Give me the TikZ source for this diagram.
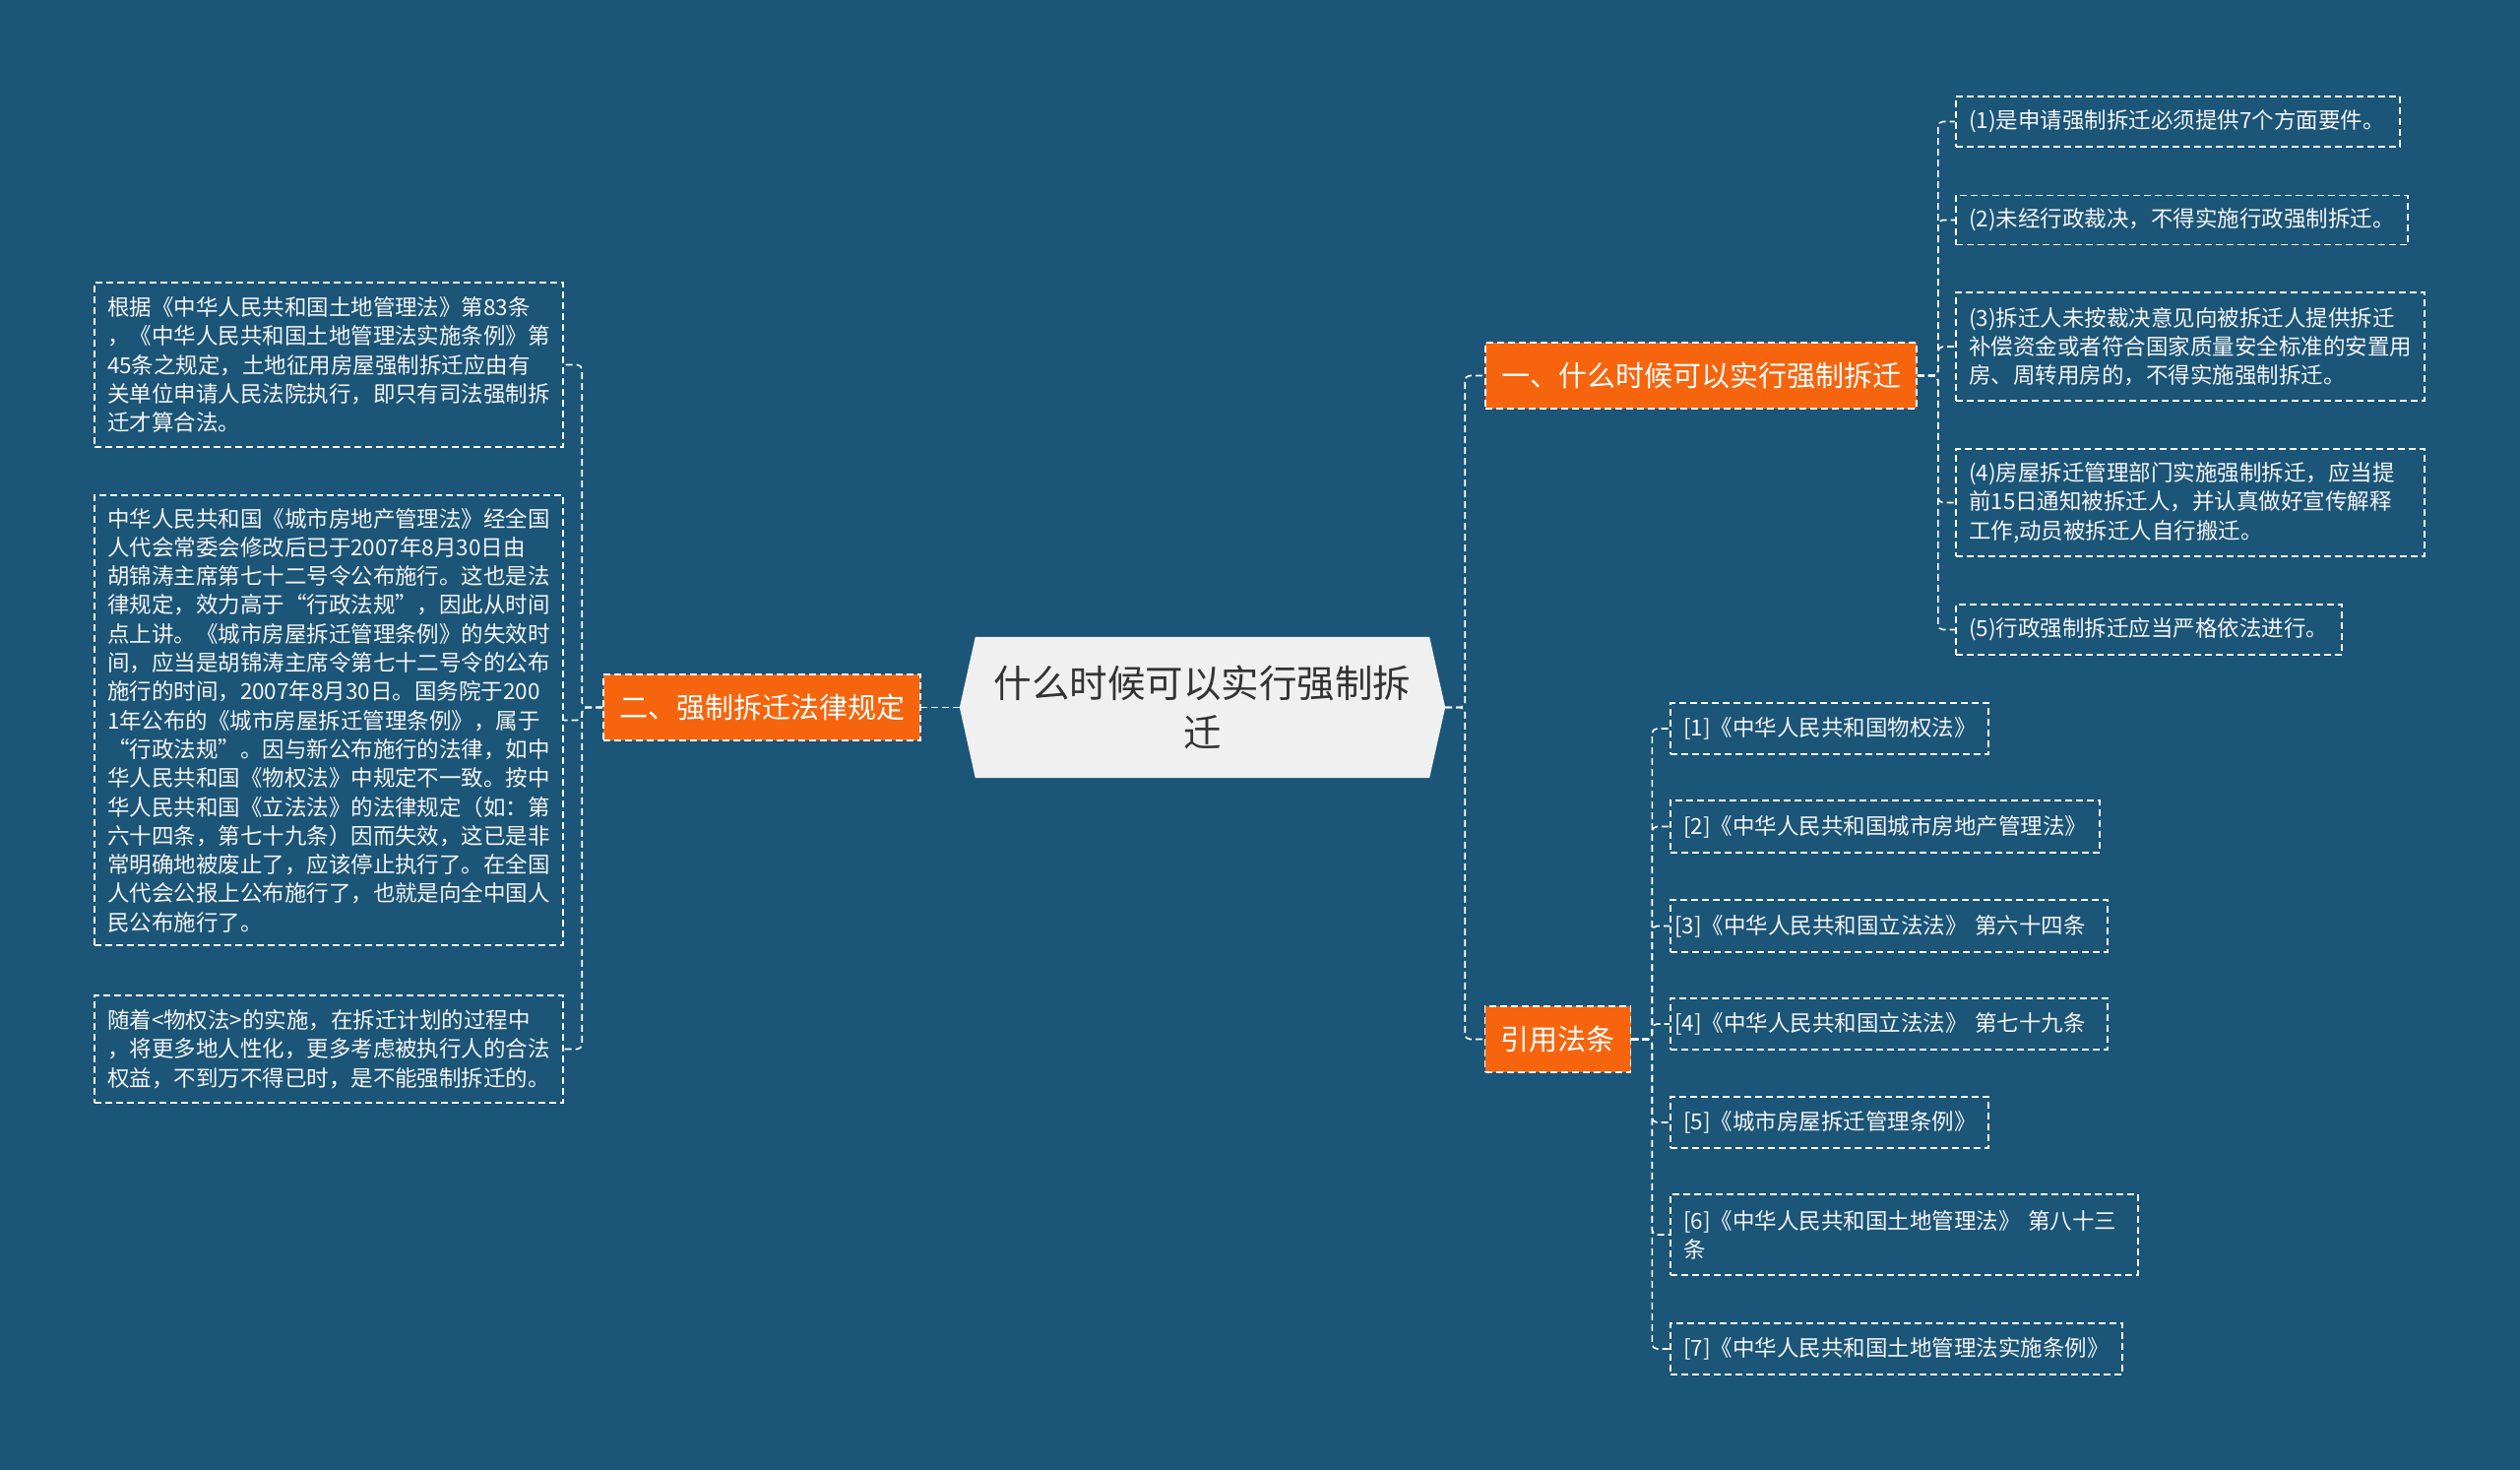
\documentclass[tikz,border=0pt]{standalone}
\usepackage{fontspec}
\setmainfont{Noto Sans CJK SC}
\usetikzlibrary{backgrounds}
\definecolor{bgblue}{RGB}{27,85,120}
\definecolor{branchorange}{RGB}{246,101,14}
\definecolor{rootfill}{RGB}{240,240,240}
\definecolor{roottext}{RGB}{51,51,51}
\definecolor{leaftext}{RGB}{245,245,245}
\tikzset{
  dashline/.style={draw=white,line width=1.6pt,dash pattern=on 7pt off 4pt},
  conn/.style={dashline,rounded corners=5pt},
  leaf/.style={dashline,text=leaftext,align=left,inner xsep=13pt,inner ysep=0pt,
    font={\fontsize{22.5}{29.3}\selectfont}},
  branch/.style={dashline,fill=branchorange,text=white,inner xsep=16pt,inner ysep=0pt,
    minimum height=67pt,font={\fontsize{29}{36}\selectfont}},
  rootnode/.style={text=roottext,align=center,minimum width=493pt,minimum height=143pt,
    font={\fontsize{38.5}{50.6}\selectfont}}
}
\begin{document}
\begin{tikzpicture}[x=1pt,y=-1pt]
\useasboundingbox (0,0) rectangle (2560,1493);
\begin{scope}[on background layer]
\fill[bgblue] (0,0) rectangle (2560,1493);
\end{scope}

% root
\node[rootnode] (root) at (1221.5,718.5) {什么时候可以实行强制拆\\迁};
\begin{scope}[on background layer]
\fill[rootfill] (root.west) -- ([xshift=16pt]root.north west) -- ([xshift=-16pt]root.north east)
  -- (root.east) -- ([xshift=-16pt]root.south east) -- ([xshift=16pt]root.south west) -- cycle;
\end{scope}

% branches
\node[branch] (b1) at (1728,381.5) {一、什么时候可以实行强制拆迁};
\node[branch] (b2) at (774,718.5) {二、强制拆迁法律规定};
\node[branch] (b3) at (1582.5,1055.5) {引用法条};

% left leaves
\node[leaf,text width=450pt,minimum height=167pt] (l1) at (334,370.5) {根据《中华人民共和国土地管理法》第83条\\
，《中华人民共和国土地管理法实施条例》第\\
45条之规定，土地征用房屋强制拆迁应由有\\
关单位申请人民法院执行，即只有司法强制拆\\
迁才算合法。};
\node[leaf,text width=450pt,minimum height=457pt] (l2) at (334,731.5) {中华人民共和国《城市房地产管理法》经全国\\
人代会常委会修改后已于2007年8月30日由\\
胡锦涛主席第七十二号令公布施行。这也是法\\
律规定，效力高于“行政法规”，因此从时间\\
点上讲。《城市房屋拆迁管理条例》的失效时\\
间，应当是胡锦涛主席令第七十二号令的公布\\
施行的时间，2007年8月30日。国务院于200\\
1年公布的《城市房屋拆迁管理条例》，属于\\
“行政法规”。因与新公布施行的法律，如中\\
华人民共和国《物权法》中规定不一致。按中\\
华人民共和国《立法法》的法律规定（如：第\\
六十四条，第七十九条）因而失效，这已是非\\
常明确地被废止了，应该停止执行了。在全国\\
人代会公报上公布施行了，也就是向全中国人\\
民公布施行了。};
\node[leaf,text width=450pt,minimum height=109pt] (l3) at (334,1065.5) {随着<物权法>的实施，在拆迁计划的过程中\\
，将更多地人性化，更多考虑被执行人的合法\\
权益，不到万不得已时，是不能强制拆迁的。};

% right leaves group 1
\node[leaf,text width=425pt,minimum height=51pt] (r1) at (2212.5,123.5) {(1)是申请强制拆迁必须提供7个方面要件。};
\node[leaf,text width=433pt,minimum height=50pt] (r2) at (2216.5,223.5) {(2)未经行政裁决，不得实施行政强制拆迁。};
\node[leaf,text width=450pt,minimum height=110pt] (r3) at (2225,352) {(3)拆迁人未按裁决意见向被拆迁人提供拆迁\\
补偿资金或者符合国家质量安全标准的安置用\\
房、周转用房的，不得实施强制拆迁。};
\node[leaf,text width=450pt,minimum height=109pt] (r4) at (2225,510.5) {(4)房屋拆迁管理部门实施强制拆迁，应当提\\
前15日通知被拆迁人，并认真做好宣传解释\\
工作,动员被拆迁人自行搬迁。};
\node[leaf,text width=366pt,minimum height=51pt] (r5) at (2183,639.5) {(5)行政强制拆迁应当严格依法进行。};

% right leaves group 2
\node[leaf,text width=297pt,minimum height=52pt] (c1) at (1858.5,740) {[1]《中华人民共和国物权法》};
\node[leaf,text width=410pt,minimum height=53pt] (c2) at (1915,839.5) {[2]《中华人民共和国城市房地产管理法》};
\node[leaf,inner xsep=4pt,text width=436pt,minimum height=53pt] (c3) at (1919,940.5) {\mbox{[3]《中华人民共和国立法法》 第六十四条}};
\node[leaf,inner xsep=4pt,text width=436pt,minimum height=52pt] (c4) at (1919,1040) {\mbox{[4]《中华人民共和国立法法》 第七十九条}};
\node[leaf,text width=297pt,minimum height=52pt] (c5) at (1858.5,1140) {[5]《城市房屋拆迁管理条例》};
\node[leaf,text width=449pt,minimum height=82pt] (c6) at (1934.5,1254) {[6]《中华人民共和国土地管理法》 第八十三\\条};
\node[leaf,text width=433pt,minimum height=52pt] (c7) at (1926.5,1370) {[7]《中华人民共和国土地管理法实施条例》};

% connectors
\draw[conn] (root.west) -- (b2.east);
\draw[conn] (root.east) -- ++(20,0) |- (b1.west);
\draw[conn] (root.east) -- ++(20,0) |- (b3.west);
\foreach \n in {l1,l2,l3} \draw[conn] (b2.west) -- ++(-21,0) |- (\n.east);
\foreach \n in {r1,r2,r3,r4,r5} \draw[conn] (b1.east) -- ++(21,0) |- (\n.west);
\foreach \n in {c1,c2,c3,c4,c5,c6,c7} \draw[conn] (b3.east) -- ++(21,0) |- (\n.west);
\end{tikzpicture}
\end{document}
